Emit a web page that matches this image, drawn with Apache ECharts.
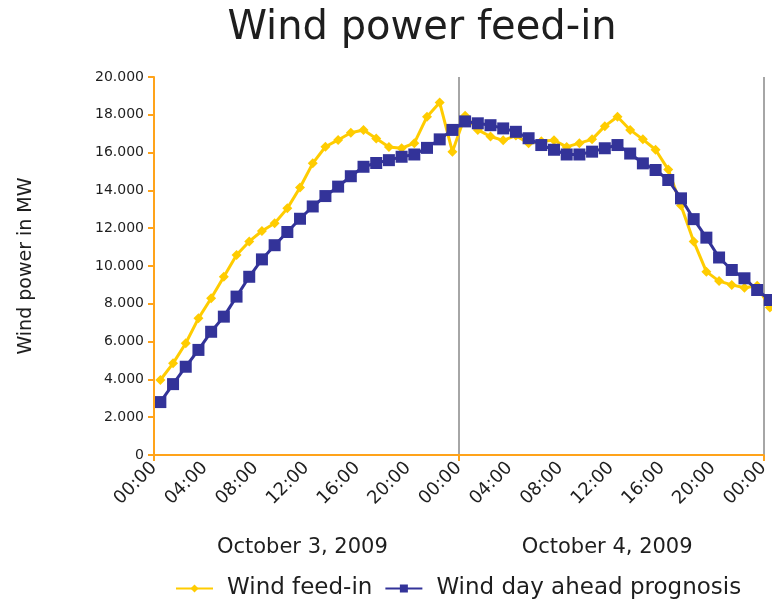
<!DOCTYPE html>
<html>
<head>
<meta charset="utf-8">
<script src="https://cdn.jsdelivr.net/npm/echarts@6/dist/echarts.min.js"></script>
<style>html,body{margin:0;padding:0;background:#fff}#c{width:772px;height:602px}</style>
</head>
<body>
<div id="c"></div>
<script>
// Hour positions of the hourly values (plotted mid-hour), Oct 3 00:00 = 0
var hours = [0.5,1.5,2.5,3.5,4.5,5.5,6.5,7.5,8.5,9.5,10.5,11.5,12.5,13.5,14.5,15.5,16.5,17.5,18.5,19.5,20.5,21.5,22.5,23.5,
             24.5,25.5,26.5,27.5,28.5,29.5,30.5,31.5,32.5,33.5,34.5,35.5,36.5,37.5,38.5,39.5,40.5,41.5,42.5,43.5,44.5,45.5,46.5,47.5,48.5];
var feedIn = [3970,4850,5910,7230,8290,9430,10580,11300,11850,12260,13050,14150,15430,16310,16670,17050,17200,16750,16300,16230,16500,17900,18650,16050,
              17950,17200,16850,16650,16900,16500,16600,16650,16300,16500,16700,17400,17900,17200,16700,16150,15100,13200,11300,9700,9200,9000,8850,8950,7800];
var prognosis = [2800,3750,4670,5560,6520,7320,8380,9430,10350,11100,11800,12500,13150,13700,14200,14750,15250,15450,15600,15780,15900,16250,16700,17200,
                 17650,17550,17450,17280,17100,16760,16400,16150,15900,15900,16050,16230,16400,15950,15430,15080,14550,13580,12480,11500,10450,9790,9350,8730,8200];
var days = ['October 3, 2009', 'October 4, 2009'];
var seriesNames = ['Wind feed-in', 'Wind day ahead prognosis'];
var titleText = 'Wind power feed-in';
var yName = 'Wind power in MW';

function pairs(xs, ys) { return ys.map(function (v, i) { return [xs[i], v]; }); }

var FONT = "'DejaVu Sans', 'Liberation Sans', Arial, sans-serif";
var ORANGE = '#FFA31A';
var TXT = '#1e1e1e';
var chart = echarts.init(document.getElementById('c'), null, {renderer: 'canvas'});
chart.setOption({
  animation: false,
  backgroundColor: '#fff',
  textStyle: {fontFamily: FONT},
  title: {
    text: titleText, left: 417, top: 4, textAlign: 'center',
    textStyle: {fontFamily: FONT, fontSize: 40, fontWeight: 'normal', color: TXT}
  },
  grid: {left: 154, right: 7, top: 77, bottom: 147, containLabel: false},
  legend: {
    data: seriesNames, left: 175, top: 577, padding: 0, itemWidth: 37, itemHeight: 10, itemGap: 12,
    formatter: function (n) { return '{t|' + n + '}'; },
    textStyle: {
      fontFamily: FONT, fontSize: 23, color: TXT,
      rich: {t: {fontFamily: FONT, fontSize: 23, color: TXT, padding: [0, 0, 0, 9]}}
    }
  },
  xAxis: [
    {
      type: 'value', min: 0, max: 48, interval: 4, position: 'bottom',
      axisLine: {show: false}, axisTick: {show: false}, splitLine: {show: false},
      axisLabel: {
        rotate: 45, margin: 10, fontSize: 18, color: TXT, fontFamily: FONT,
        formatter: function (v) { var h = v % 24; return (h < 10 ? '0' : '') + h + ':00'; }
      }
    },
    {
      type: 'category', data: days, boundaryGap: true, position: 'bottom', offset: 82,
      axisLine: {show: false}, axisTick: {show: false}, splitLine: {show: false},
      axisLabel: {fontSize: 21, color: TXT, fontFamily: FONT, margin: 0, padding: [0, 8, 0, 0]}
    },
    {
      type: 'category', data: days, boundaryGap: true, position: 'bottom',
      axisLine: {show: true, lineStyle: {color: ORANGE, width: 2}},
      axisTick: {show: true, length: 6, lineStyle: {color: ORANGE, width: 2}},
      axisLabel: {show: false},
      splitLine: {show: true, lineStyle: {color: '#a6a6a6', width: 2}}
    }
  ],
  yAxis: {
    type: 'value', min: 0, max: 20000, interval: 2000,
    name: yName, nameLocation: 'middle', nameRotate: 90, nameGap: 118,
    nameTextStyle: {fontFamily: FONT, fontSize: 19, color: TXT},
    axisLine: {show: true, lineStyle: {color: ORANGE, width: 2}},
    axisTick: {show: true, length: 6, lineStyle: {color: ORANGE, width: 2}},
    splitLine: {show: false},
    axisLabel: {
      fontSize: 14, color: TXT, margin: 10, fontFamily: FONT,
      formatter: function (v) { return v === 0 ? '0' : (Math.floor(v / 1000) + '.' + ('00' + (v % 1000)).slice(-3)); }
    },
    z: 5
  },
  series: [
    {
      name: seriesNames[0], type: 'line', xAxisIndex: 0, data: pairs(hours, feedIn), clip: false,
      symbol: 'diamond', symbolSize: 10, showAllSymbol: true,
      itemStyle: {color: '#FFCC00'}, lineStyle: {color: '#FFCC00', width: 3}, z: 3
    },
    {
      name: seriesNames[1], type: 'line', xAxisIndex: 0, data: pairs(hours, prognosis), clip: false,
      symbol: 'rect', symbolSize: 12, showAllSymbol: true,
      itemStyle: {color: '#333399'}, lineStyle: {color: '#333399', width: 3}, z: 4
    }
  ]
});
</script>
</body>
</html>
